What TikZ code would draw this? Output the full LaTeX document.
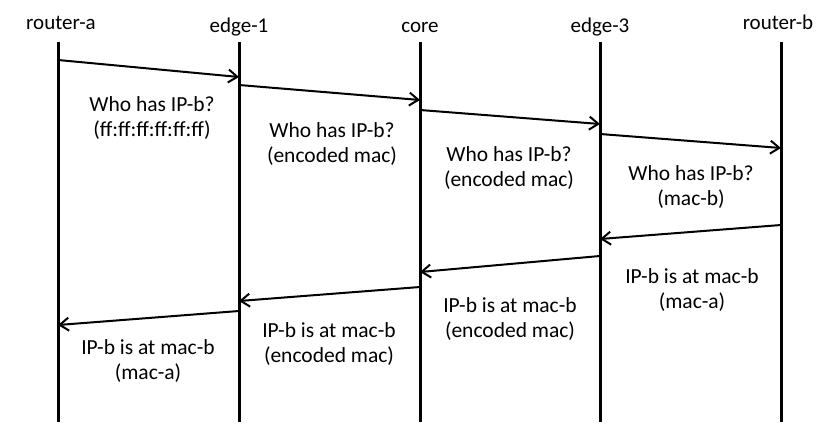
\documentclass[tikz,border=0pt]{standalone}
\usepackage{fontspec}
\setmainfont{Carlito}
\usetikzlibrary{arrows.meta}

\begin{document}
\begin{tikzpicture}[x=1pt, y=-1pt,
    head/.style={font=\fontsize{21}{25}\selectfont, inner sep=0pt, anchor=base},
    msg/.style={align=center, font=\fontsize{21.5}{25}\selectfont, inner sep=0pt},
    life/.style={line width=3pt},
    arrow/.style={line width=2pt, -{Straight Barb[length=9pt, width=13pt, line width=2pt]}}
]

\useasboundingbox (0,0) rectangle (816,441);

% lifeline heads
\node[head] (ra) at (61, 30) {router-a};
\node[head] (e1) at (239, 33) {edge-1};
\node[head] (co) at (420, 33) {core};
\node[head] (e3) at (600, 33) {edge-3};
\node[head] (rb) at (778, 30) {router-b};

% lifelines
\coordinate (ra-top) at (58, 42);  \coordinate (ra-bot) at (58, 422);
\coordinate (e1-top) at (239, 42); \coordinate (e1-bot) at (239, 422);
\coordinate (co-top) at (420, 42); \coordinate (co-bot) at (420, 422);
\coordinate (e3-top) at (600, 42); \coordinate (e3-bot) at (600, 422);
\coordinate (rb-top) at (781, 42); \coordinate (rb-bot) at (781, 422);

\draw[life] (ra-top) -- (ra-bot);
\draw[life] (e1-top) -- (e1-bot);
\draw[life] (co-top) -- (co-bot);
\draw[life] (e3-top) -- (e3-bot);
\draw[life] (rb-top) -- (rb-bot);

% request ends
\coordinate (q1s) at (58, 60);   \coordinate (q1e) at (239, 77);
\coordinate (q2s) at (239, 85);  \coordinate (q2e) at (420, 100);
\coordinate (q3s) at (420, 110); \coordinate (q3e) at (600, 124);
\coordinate (q4s) at (600, 134); \coordinate (q4e) at (781, 148);

% reply ends
\coordinate (r1s) at (781, 225); \coordinate (r1e) at (600, 239);
\coordinate (r2s) at (600, 256); \coordinate (r2e) at (420, 272);
\coordinate (r3s) at (420, 287); \coordinate (r3e) at (239, 301);
\coordinate (r4s) at (239, 311); \coordinate (r4e) at (58, 325);

\draw[arrow] (q1s) -- (q1e);
\draw[arrow] (q2s) -- (q2e);
\draw[arrow] (q3s) -- (q3e);
\draw[arrow] (q4s) -- (q4e);

\draw[arrow] (r1s) -- (r1e);
\draw[arrow] (r2s) -- (r2e);
\draw[arrow] (r3s) -- (r3e);
\draw[arrow] (r4s) -- (r4e);

% messages
\node[msg] (who1) at (152, 118) {Who has IP-b?\\(ff:ff:ff:ff:ff:ff)};
\node[msg] (who2) at (332, 144) {Who has IP-b?\\(encoded mac)};
\node[msg] (who3) at (509, 168) {Who has IP-b?\\(encoded mac)};
\node[msg] (who4) at (691, 187) {Who has IP-b?\\(mac-b)};

\node[msg] (at1) at (692, 290) {IP-b is at mac-b\\(mac-a)};
\node[msg] (at2) at (510, 319) {IP-b is at mac-b\\(encoded mac)};
\node[msg] (at3) at (329, 344) {IP-b is at mac-b\\(encoded mac)};
\node[msg] (at4) at (148, 361) {IP-b is at mac-b\\(mac-a)};

\end{tikzpicture}
\end{document}
